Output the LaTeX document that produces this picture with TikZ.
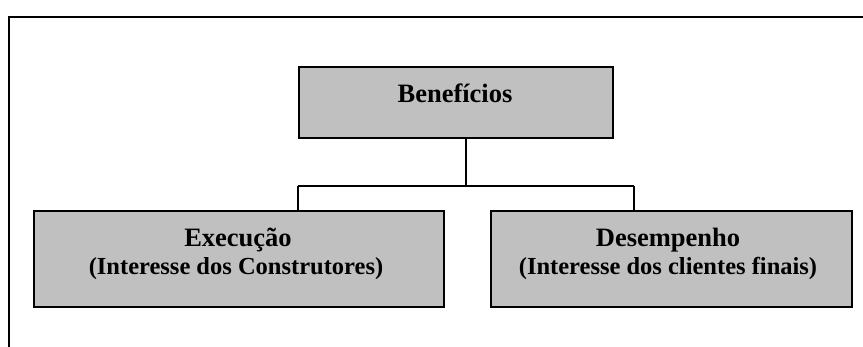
\documentclass[tikz,border=0pt]{standalone}
\usepackage{fontspec}
\setmainfont{Liberation Serif}
\definecolor{boxgray}{HTML}{C0C0C0}
\begin{document}
\begin{tikzpicture}[x=1pt,y=-1pt,
  box/.style={draw=black,line width=2.2pt,fill=boxgray,inner sep=0pt,anchor=north west},
  conn/.style={draw=black,line width=2.2pt},
  title/.style={font=\fontsize{26.5}{28}\selectfont\bfseries},
  sub/.style={font=\fontsize{24.5}{28}\selectfont\bfseries}]
\useasboundingbox (0,0) rectangle (863,347);
% frame
\draw[line width=2.5pt] (9,347) -- (9,17) -- (863,17);
% boxes
\node[box,minimum width=314pt,minimum height=71pt] (top) at (298,66) {};
\node[title,anchor=base] (toptext) at (455,103) {Benefícios};
\node[box,minimum width=410pt,minimum height=96pt] (left) at (33,210) {};
\node[box,minimum width=361pt,minimum height=96pt] (right) at (490,210) {};
\node[title,anchor=base] (lt1) at (238,247) {Execução};
\node[sub,anchor=base] (lt2) at (236,275) {(Interesse dos Construtores)};
\node[title,anchor=base] (rt1) at (668,247) {Desempenho};
\node[sub,anchor=base] (rt2) at (668,275) {(Interesse dos clientes finais)};
% connectors
\coordinate (j) at (466,186);
\coordinate (jl) at (298,186);
\coordinate (jr) at (634,186);
\draw[conn] (top.south -| j) -- (j);
\draw[conn] (jl) -- (jr);
\draw[conn] (jl) -- (jl |- left.north);
\draw[conn] (jr) -- (jr |- right.north);
\end{tikzpicture}
\end{document}
